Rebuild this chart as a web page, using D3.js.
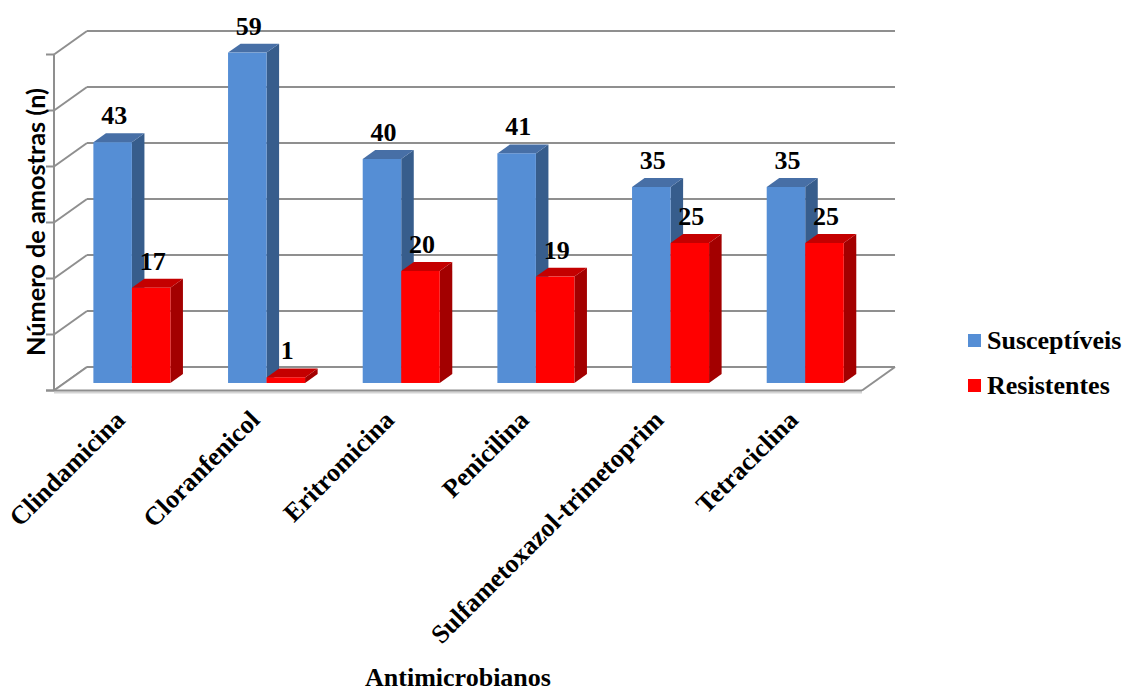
<!DOCTYPE html>
<html>
<head>
<meta charset="utf-8">
<script src="https://cdn.jsdelivr.net/npm/d3@7"></script>
<style>
  html, body { margin: 0; padding: 0; background: #ffffff; }
  svg { display: block; }
</style>
</head>
<body>
<svg id="chart" width="1128" height="691"></svg>
<script>
// Antimicrobial susceptibility counts per drug
const categories = ["Clindamicina", "Cloranfenicol", "Eritromicina", "Penicilina", "Sulfametoxazol-trimetoprim", "Tetraciclina"];
const seriesNames = ["Susceptíveis", "Resistentes"];
const susceptiveis = [43, 59, 40, 41, 35, 35];
const resistentes = [17, 1, 20, 19, 25, 25];
const yTicks = [0, 10, 20, 30, 40, 50, 60];
const yTitle = "Número de amostras (n)";
const xTitle = "Antimicrobianos";

const seriesValues = [susceptiveis, resistentes];
const palette = {
  "Susceptíveis": { front: "#558ed5", side: "#375d8c", top: "#476fa6" },
  "Resistentes": { front: "#ff0000", side: "#a30000", top: "#c40000" }
};
const SERIF = "'Liberation Serif', 'Times New Roman', Times, 'DejaVu Serif', serif";

const svg = d3.select("#chart");
const serifText = sel => sel
  .style("font-family", SERIF)
  .style("font-weight", "bold")
  .style("font-size", "26px")
  .attr("fill", "#000");

// 3D box: front plane, depth offset to the back wall
const DX = 33, DY = -23.5;
const zFront = 0.32, zBack = 0.70;   // depth span occupied by the bars

const x = d3.scaleBand().domain(categories).range([54, 862])
  .paddingInner(0.428).paddingOuter(0.214);
const xs = d3.scaleBand().domain(seriesNames).range([0, x.bandwidth()]);
const y = d3.scaleLinear().domain([0, 60]).range([390.5, 54.5]);

const P = (px, v, z) => [px + z * DX, y(v) + z * DY];
const gridColor = "#8f8f8f";

// back wall gridlines
const g = svg.append("g");
g.selectAll("line.grid").data(yTicks).join("line")
  .attr("x1", d => P(x.range()[0], d, 1)[0])
  .attr("x2", d => P(x.range()[1], d, 1)[0])
  .attr("y1", d => P(0, d, 1)[1])
  .attr("y2", d => P(0, d, 1)[1])
  .attr("stroke", gridColor).attr("stroke-width", 2);

// side wall gridlines
g.selectAll("line.side").data(yTicks).join("line")
  .attr("x1", x.range()[0]).attr("y1", d => y(d))
  .attr("x2", d => P(x.range()[0], d, 1)[0]).attr("y2", d => P(0, d, 1)[1])
  .attr("stroke", gridColor).attr("stroke-width", 2);

// floor
const x0 = x.range()[0], x1 = x.range()[1];
g.append("path")
  .attr("d", d3.line()([P(x0, 0, 0), P(x1, 0, 0), P(x1, 0, 1), P(x0, 0, 1)]) + "Z")
  .attr("fill", "#ffffff").attr("stroke", "none");
g.append("line")
  .attr("x1", P(x0, 0, 1)[0]).attr("y1", P(x0, 0, 1)[1])
  .attr("x2", P(x1, 0, 1)[0]).attr("y2", P(x1, 0, 1)[1])
  .attr("stroke", gridColor).attr("stroke-width", 2);
g.append("path")
  .attr("d", d3.line()([P(x1, 0, 0), P(x1, 0, 1)]))
  .attr("stroke", gridColor).attr("stroke-width", 2).attr("fill", "none");
g.append("path")
  .attr("d", d3.line()([P(x0, 0, 0), P(x0, 0, 1)]))
  .attr("stroke", gridColor).attr("stroke-width", 2).attr("fill", "none");
// front floor edge with a soft shadow
g.append("line")
  .attr("x1", x0).attr("x2", x1).attr("y1", y(0) + 2).attr("y2", y(0) + 2)
  .attr("stroke", "#d4d4d4").attr("stroke-width", 2);
g.append("line")
  .attr("x1", x0 - 8).attr("x2", x1).attr("y1", y(0)).attr("y2", y(0))
  .attr("stroke", gridColor).attr("stroke-width", 2.2);

// vertical value axis and tick marks
g.append("line")
  .attr("x1", x0).attr("x2", x0).attr("y1", y(60)).attr("y2", y(0))
  .attr("stroke", gridColor).attr("stroke-width", 2);
g.selectAll("line.tick").data(yTicks).join("line")
  .attr("x1", x0 - 8).attr("x2", x0)
  .attr("y1", d => y(d)).attr("y2", d => y(d))
  .attr("stroke", gridColor).attr("stroke-width", 2);

// bars
const bars = [];
categories.forEach((c, i) => {
  seriesNames.forEach((s, j) => {
    bars.push({ cat: c, series: s, value: seriesValues[j][i] });
  });
});

const line = d3.line();
const barG = svg.append("g");
bars.forEach(b => {
  const left = x(b.cat) + xs(b.series);
  const right = left + xs.bandwidth();
  const col = palette[b.series];
  const grp = barG.append("g");
  // right side face
  grp.append("path")
    .attr("d", line([P(right, 0, zFront), P(right, 0, zBack), P(right, b.value, zBack), P(right, b.value, zFront)]) + "Z")
    .attr("fill", col.side);
  // top face
  grp.append("path")
    .attr("d", line([P(left, b.value, zFront), P(right, b.value, zFront), P(right, b.value, zBack), P(left, b.value, zBack)]) + "Z")
    .attr("fill", col.top);
  // front face
  const fl = P(left, b.value, zFront), fr = P(right, 0, zFront);
  grp.append("rect")
    .attr("x", fl[0]).attr("y", fl[1])
    .attr("width", fr[0] - fl[0]).attr("height", fr[1] - fl[1])
    .attr("fill", col.front);
});

// value labels above each bar
barG.selectAll("text.value").data(bars).join("text")
  .attr("class", "value")
  .call(serifText)
  .attr("text-anchor", "middle")
  .attr("x", b => P(x(b.cat) + xs(b.series) + xs.bandwidth() / 2, b.value, zFront)[0] + 1.5)
  .attr("y", b => P(0, b.value, zBack)[1] - 9)
  .text(b => b.value);

// category labels, rotated
svg.append("g").selectAll("text").data(categories).join("text")
  .call(serifText)
  .attr("text-anchor", "end")
  .attr("transform", c => `translate(${x(c) + x.bandwidth() / 2 + 5},${y(0) + 31}) rotate(-45)`)
  .text(c => c);

// axis titles
svg.append("text")
  .call(serifText)
  .attr("text-anchor", "middle")
  .attr("x", 458).attr("y", 686)
  .text(xTitle);

svg.append("text")
  .style("font-family", "Lato, 'Open Sans', sans-serif")
  .style("font-weight", "bold")
  .style("font-size", "25px")
  .attr("fill", "#000")
  .attr("text-anchor", "middle")
  .attr("textLength", 268)
  .attr("lengthAdjust", "spacingAndGlyphs")
  .attr("transform", "translate(45,222) rotate(-90)")
  .text(yTitle);

// legend
const legend = svg.append("g").selectAll("g").data(seriesNames).join("g")
  .attr("transform", (d, i) => `translate(968,${334 + i * 45})`);
legend.append("rect")
  .attr("width", 13).attr("height", 13)
  .attr("fill", d => palette[d].front);
legend.append("text")
  .call(serifText)
  .attr("x", 19).attr("y", 15)
  .text(d => d);
</script>
</body>
</html>
